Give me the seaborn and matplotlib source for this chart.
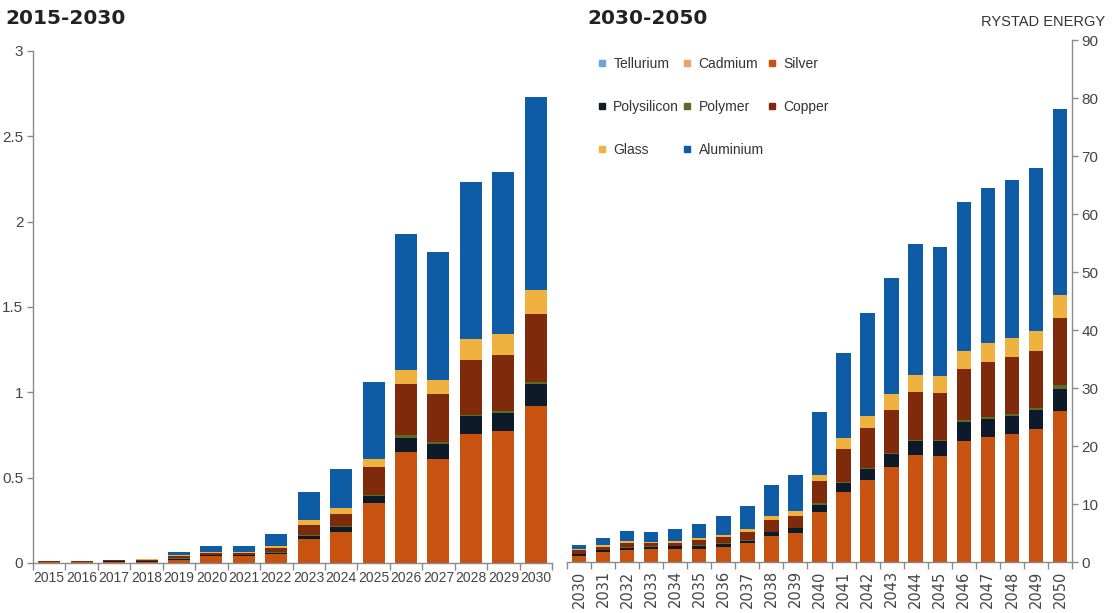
import numpy as np
import pandas as pd
import matplotlib
matplotlib.use("Agg")
import matplotlib.pyplot as plt
import seaborn as sns
from matplotlib.lines import Line2D
from matplotlib.ticker import FixedLocator

# ---------------- data ----------------
materials = ["Tellurium", "Cadmium", "Silver", "Polysilicon", "Polymer",
             "Copper", "Glass", "Aluminium"]

years_a = ["2015", "2016", "2017", "2018", "2019", "2020", "2021", "2022",
           "2023", "2024", "2025", "2026", "2027", "2028", "2029", "2030"]
tellurium_a = [0, 0, 0, 0, 0, 0, 0, 0, 0, 0, 0, 0, 0, 0, 0, 0]
cadmium_a = [0, 0, 0, 0, 0, 0, 0, 0, 0, 0, 0, 0, 0, 0, 0, 0]
silver_a = [0.004, 0.004, 0.006, 0.008, 0.02, 0.04, 0.04, 0.05, 0.14, 0.18,
            0.35, 0.65, 0.61, 0.755, 0.775, 0.92]
polysilicon_a = [0.003, 0.003, 0.004, 0.005, 0.005, 0.005, 0.005, 0.01, 0.02,
                 0.03, 0.045, 0.085, 0.09, 0.105, 0.105, 0.13]
polymer_a = [0.0005, 0.0005, 0.001, 0.001, 0.002, 0.002, 0.002, 0.003, 0.005,
             0.005, 0.005, 0.015, 0.01, 0.01, 0.01, 0.01]
copper_a = [0.003, 0.003, 0.004, 0.006, 0.013, 0.013, 0.013, 0.027, 0.055,
            0.075, 0.16, 0.30, 0.28, 0.32, 0.33, 0.40]
glass_a = [0.0005, 0.0005, 0.001, 0.002, 0.005, 0.005, 0.005, 0.01, 0.03,
           0.035, 0.05, 0.08, 0.08, 0.12, 0.12, 0.14]
aluminium_a = [0.001, 0.001, 0.002, 0.003, 0.02, 0.035, 0.035, 0.07, 0.165,
               0.225, 0.45, 0.80, 0.75, 0.92, 0.95, 1.13]

years_b = ["2030", "2031", "2032", "2033", "2034", "2035", "2036", "2037",
           "2038", "2039", "2040", "2041", "2042", "2043", "2044", "2045",
           "2046", "2047", "2048", "2049", "2050"]
tellurium_b = [0] * 21
cadmium_b = [0] * 21
silver_b = [1.0, 1.7, 2.1, 2.2, 2.3, 2.3, 2.6, 3.3, 4.4, 5.0, 8.6, 12.0, 14.2,
            16.4, 18.4, 18.2, 20.8, 21.5, 22.1, 22.9, 26.1]
polysilicon_b = [0.3, 0.3, 0.4, 0.4, 0.4, 0.5, 0.5, 0.4, 0.7, 0.8, 1.3, 1.6,
                 1.8, 2.2, 2.5, 2.6, 3.3, 3.2, 3.1, 3.3, 3.7]
polymer_b = [0.1, 0.1, 0.1, 0.1, 0.1, 0.1, 0.1, 0.1, 0.1, 0.1, 0.2, 0.2, 0.2,
             0.2, 0.2, 0.2, 0.3, 0.3, 0.3, 0.3, 0.8]
copper_b = [0.6, 0.5, 0.6, 0.5, 0.5, 0.9, 1.1, 1.4, 2.0, 2.1, 3.8, 5.7, 6.9,
            7.4, 8.2, 8.1, 8.8, 9.4, 9.8, 9.9, 11.4]
glass_b = [0.3, 0.3, 0.4, 0.3, 0.4, 0.4, 0.4, 0.5, 0.7, 0.8, 1.1, 1.9, 2.1,
           2.7, 3.0, 3.0, 3.2, 3.4, 3.4, 3.5, 4.0]
aluminium_b = [0.6, 1.3, 1.7, 1.7, 2.0, 2.4, 3.2, 4.0, 5.3, 6.2, 10.8, 14.6,
               17.7, 20.0, 22.5, 22.2, 25.7, 26.6, 27.1, 28.1, 32.1]

yticks_a = [0, 0.5, 1, 1.5, 2, 2.5, 3]
yticklabels_a = ["0", "0.5", "1", "1.5", "2", "2.5", "3"]
yticks_b = [0, 10, 20, 30, 40, 50, 60, 70, 80, 90]

colors = {
    "Tellurium": "#6FA3D6",
    "Cadmium": "#E8A46A",
    "Silver": "#C8520F",
    "Polysilicon": "#0C1A2A",
    "Polymer": "#5A6A2A",
    "Copper": "#7E2A0B",
    "Glass": "#EFB23E",
    "Aluminium": "#0E5BA6",
}

SANS = ["Liberation Sans", "DejaVu Sans"]
TICKC = "#444444"
SPINEC = "#8a8a8a"

series_a = [tellurium_a, cadmium_a, silver_a, polysilicon_a, polymer_a,
            copper_a, glass_a, aluminium_a]
series_b = [tellurium_b, cadmium_b, silver_b, polysilicon_b, polymer_b,
            copper_b, glass_b, aluminium_b]

sns.set_theme(style="white")
plt.rcParams["font.family"] = ["DejaVu Sans"]

fig = plt.figure(figsize=(11.15, 6.13), dpi=100)
W, H = 1115, 613
axA = fig.add_axes([33 / W, 1 - 563 / H, (552 - 33) / W, (563 - 51) / H])
axB = fig.add_axes([567 / W, 1 - 562 / H, (1072 - 567) / W, (562 - 40) / H])


def stacked(ax, years, series, width):
    df = pd.DataFrame({m: s for m, s in zip(materials, series)})
    df["year"] = years
    cum = df[materials].cumsum(axis=1)
    for m in reversed(materials):
        sns.barplot(x=df["year"], y=cum[m], color=colors[m], saturation=1,
                    width=width, ax=ax, errorbar=None, linewidth=0,
                    edgecolor="none")
    ax.set_xlabel("")
    ax.set_ylabel("")
    n = len(years)
    ax.set_xlim(-0.5, n - 0.5)
    ax.xaxis.set_minor_locator(FixedLocator(np.arange(-0.5, n, 1.0)))
    ax.tick_params(axis="x", which="major", length=0, pad=6, colors=TICKC)
    ax.tick_params(axis="x", which="minor", length=5, width=1,
                   direction="out", color=SPINEC, bottom=True)
    for s in ax.spines.values():
        s.set_color(SPINEC)
        s.set_linewidth(1)
    ax.spines["top"].set_visible(False)


stacked(axA, years_a, series_a, 0.68)
axA.set_ylim(0, 3)
axA.set_yticks(yticks_a)
axA.set_yticklabels(yticklabels_a)
axA.spines["right"].set_visible(False)
axA.tick_params(axis="y", length=4, width=1, direction="out", color=SPINEC,
                colors=TICKC, left=True, pad=3)
for lab in axA.get_yticklabels():
    lab.set_family(SANS)
    lab.set_fontsize(11)
for lab in axA.get_xticklabels():
    lab.set_family(SANS)
    lab.set_fontsize(10)

stacked(axB, years_b, series_b, 0.6)
axB.set_ylim(0, 90)
axB.set_yticks(yticks_b)
axB.yaxis.tick_right()
axB.spines["left"].set_visible(False)
axB.tick_params(axis="y", length=4, width=1, direction="out", color=SPINEC,
                colors=TICKC, right=True, left=False, pad=3)
for lab in axB.get_yticklabels():
    lab.set_family(SANS)
    lab.set_fontsize(11)
for lab in axB.get_xticklabels():
    lab.set_rotation(90)
    lab.set_fontsize(10.5)

# titles
fig.text(5 / W, 1 - 18 / H, "2015-2030", fontsize=14.5, fontweight="bold",
         color="#222222", va="center", ha="left")
fig.text(587 / W, 1 - 18 / H, "2030-2050", fontsize=14.5, fontweight="bold",
         color="#222222", va="center", ha="left")
fig.text(1105 / W, 1 - 22 / H, "RYSTAD ENERGY", fontsize=10.5, family=SANS,
         color="#333333", va="center", ha="right")

# legend (row-wise arrangement in 3 columns)
order = ["Tellurium", "Polysilicon", "Glass", "Cadmium", "Polymer",
         "Aluminium", "Silver", "Copper"]
handles = [Line2D([], [], marker="s", linestyle="none", markersize=5,
                  markerfacecolor=colors[m], markeredgecolor=colors[m])
           for m in order]
fig.legend(handles, order, loc="upper left",
           bbox_to_anchor=(598 / W, 1 - 57 / H), ncol=3, frameon=False,
           prop={"family": SANS, "size": 10}, labelcolor="#333333",
           handlelength=0.6, handletextpad=0.5, columnspacing=0.3,
           labelspacing=2.1, borderpad=0, borderaxespad=0)

fig.savefig("out.png", dpi=100, facecolor="white")
